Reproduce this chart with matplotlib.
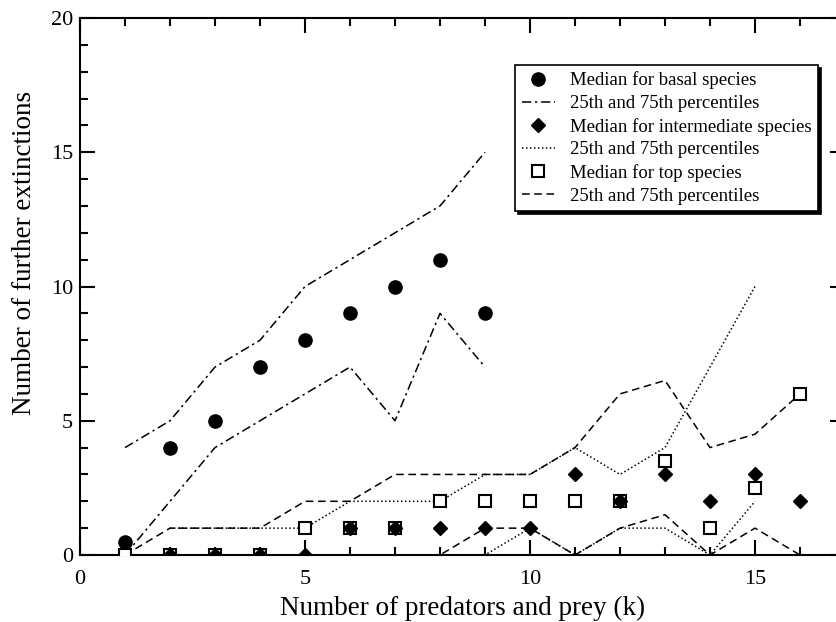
import numpy as np
import matplotlib
matplotlib.use("Agg")
import matplotlib.pyplot as plt
from matplotlib.ticker import MultipleLocator

plt.rcParams['font.family'] = ['Liberation Serif', 'DejaVu Serif']

# basal species, k = 1..9
k_basal = [1, 2, 3, 4, 5, 6, 7, 8, 9]
basal_median = [0.5, 4, 5, 7, 8, 9, 10, 11, 9]
basal_p25 = [0, 2, 4, 5, 6, 7, 5, 9, 7]
basal_p75 = [4, 5, 7, 8, 10, 11, 12, 13, 15]

# intermediate species
k_inter = [2, 3, 4, 5, 6, 7, 8, 9, 10, 11, 12, 13, 14, 15, 16]
inter_median = [0, 0, 0, 0, 1, 1, 1, 1, 1, 3, 2, 3, 2, 3, 2]
k_inter_pct = [2, 3, 4, 5, 6, 7, 8, 9, 10, 11, 12, 13, 14, 15]
inter_p25 = [0, 0, 0, 0, 0, 0, 0, 0, 1, 0, 1, 1, 0, 2]
inter_p75 = [1, 1, 1, 1, 2, 2, 2, 3, 3, 4, 3, 4, 7, 10]

# top species, k = 1..16
k_top = [1, 2, 3, 4, 5, 6, 7, 8, 9, 10, 11, 12, 13, 14, 15, 16]
top_median = [0, 0, 0, 0, 1, 1, 1, 2, 2, 2, 2, 2, 3.5, 1, 2.5, 6]
top_p25 = [0, 0, 0, 0, 0, 0, 0, 0, 1, 1, 0, 1, 1.5, 0, 1, 0]
top_p75 = [0, 1, 1, 1, 2, 2, 3, 3, 3, 3, 4, 6, 6.5, 4, 4.5, 6]

fig = plt.figure(figsize=(8.37, 6.22), dpi=100)
ax = fig.add_axes([80/837, 67/622, 765/837, 537/622])

lw = 1.1
dashdot = (0, (6, 2.5, 1.5, 2.5))
dotted = (0, (1, 1.6))
dashed = (0, (5, 3))

# percentile lines
ax.plot(k_basal, basal_p75, color='black', lw=lw, linestyle=dashdot, label='25th and 75th percentiles')
ax.plot(k_basal, basal_p25, color='black', lw=lw, linestyle=dashdot)
ax.plot(k_inter_pct, inter_p75, color='black', lw=lw, linestyle=dotted, label='25th and 75th percentiles')
ax.plot(k_inter_pct, inter_p25, color='black', lw=lw, linestyle=dotted)
ax.plot(k_top, top_p75, color='black', lw=lw, linestyle=dashed, label='25th and 75th percentiles')
ax.plot(k_top, top_p25, color='black', lw=lw, linestyle=dashed)

# medians
h_basal, = ax.plot(k_basal, basal_median, 'o', color='black', ms=9.5, linestyle='none',
                   label='Median for basal species')
h_top, = ax.plot(k_top, top_median, 's', mfc='white', mec='black', mew=1.5, ms=8,
                 linestyle='none', label='Median for top species', zorder=3)
h_inter, = ax.plot(k_inter, inter_median, 'D', color='black', ms=7.5, linestyle='none',
                   label='Median for intermediate species', zorder=4)

ax.set_xlim(0, 17)
ax.set_ylim(0, 20)
ax.xaxis.set_major_locator(MultipleLocator(5))
ax.xaxis.set_minor_locator(MultipleLocator(1))
ax.yaxis.set_major_locator(MultipleLocator(5))
ax.yaxis.set_minor_locator(MultipleLocator(1))
ax.tick_params(which='both', direction='in', top=True, right=True, width=1.5, labelsize=16)
ax.tick_params(axis='x', pad=11)
ax.tick_params(axis='y', pad=5)
ax.tick_params(which='major', length=11)
ax.tick_params(which='minor', length=5.5)
for sp in ax.spines.values():
    sp.set_linewidth(1.5)

xl = ax.set_xlabel('Number of predators and prey (k)', fontsize=19.5)
yl = ax.set_ylabel('Number of further extinctions', fontsize=19.5)
xl.set_va('center')
yl.set_va('center')
ax.xaxis.set_label_coords(0.5, -0.099)
ax.yaxis.set_label_coords(-0.073, 0.562)

lines = ax.get_lines()
handles = [h_basal, lines[0], h_inter, lines[2], h_top, lines[4]]
labels = [h.get_label() for h in handles]
leg = ax.legend(handles, labels, loc='upper left', bbox_to_anchor=(515/837, 1 - 65/622),
                bbox_transform=fig.transFigure, borderaxespad=0, fontsize=13.5,
                fancybox=False, edgecolor='black', framealpha=1, handlelength=1.8,
                labelspacing=0.3, borderpad=0.35, handletextpad=0.8,
                shadow={'ox': 2, 'oy': -2, 'color': 'black', 'alpha': 1, 'shade': 0})
leg.get_frame().set_linewidth(1.2)

fig.savefig('out.png', dpi=100)
